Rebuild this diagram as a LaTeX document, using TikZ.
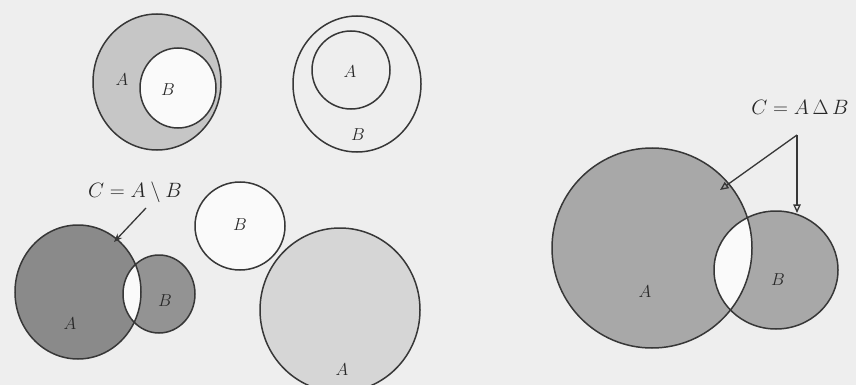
\documentclass[tikz,border=0pt]{standalone}
\usepackage{amsmath,amssymb}
\usetikzlibrary{arrows.meta}
\definecolor{VNback}{RGB}{238,238,238}
\definecolor{VNline}{RGB}{55,55,55}
\definecolor{VNtext}{RGB}{40,40,40}
\definecolor{VNdark}{RGB}{138,138,138}
\definecolor{VNmid}{RGB}{168,168,168}
\definecolor{VNsoft}{RGB}{198,198,198}
\definecolor{VNpale}{RGB}{214,214,214}
\definecolor{VNwhite}{RGB}{250,250,250}
\tikzset{
  ring/.style={draw=VNline,line width=1.5pt},
  lbl/.style={font=\fontsize{17}{20}\selectfont,text=VNtext,inner sep=1pt},
  eqn/.style={font=\fontsize{22}{26}\selectfont,text=VNtext,inner sep=1pt},
  ptr/.style={-{Triangle[open,length=3mm,width=2.6mm]},line width=1.3pt,draw=VNline}
}
\begin{document}
\begin{tikzpicture}[x=1pt,y=-1pt]
  \fill[VNback] (0,0) rectangle (856,385);
  \useasboundingbox (0,0) rectangle (856,385);

  % top left: B inside A, A\B shaded
  \coordinate (oA1) at (157,82);
  \coordinate (oB1) at (178,88);
  \fill[VNsoft] (oA1) ellipse[x radius=64pt,y radius=68pt];
  \fill[VNwhite] (oB1) ellipse[x radius=38pt,y radius=40pt];
  \draw[ring] (oA1) ellipse[x radius=64pt,y radius=68pt];
  \draw[ring] (oB1) ellipse[x radius=38pt,y radius=40pt];
  \node[lbl] (lA1) at (122,80) {$A$};
  \node[lbl] (lB1) at (168,90) {$B$};

  % top middle: A inside B
  \coordinate (oB2) at (357,84);
  \coordinate (oA2) at (351,70);
  \draw[ring] (oB2) ellipse[x radius=64pt,y radius=68pt];
  \draw[ring] (oA2) ellipse[x radius=39pt,y radius=39pt];
  \node[lbl] (lA2) at (350,72) {$A$};
  \node[lbl] (lB2) at (358,135) {$B$};

  % bottom left: difference
  \coordinate (oA3) at (78,292);
  \coordinate (oB3) at (159,294);
  \fill[VNdark] (oA3) ellipse[x radius=63pt,y radius=67pt];
  \fill[VNdark!92!white] (oB3) ellipse[x radius=36pt,y radius=39pt];
  \begin{scope}
    \clip (oA3) ellipse[x radius=63pt,y radius=67pt];
    \fill[VNwhite] (oB3) ellipse[x radius=36pt,y radius=39pt];
  \end{scope}
  \draw[ring] (oA3) ellipse[x radius=63pt,y radius=67pt];
  \draw[ring] (oB3) ellipse[x radius=36pt,y radius=39pt];
  \node[lbl] (lA3) at (70,324) {$A$};
  \node[lbl] (lB3) at (165,301) {$B$};
  \node[eqn] (eqD) at (135,192) {$C = A\setminus B$};
  \coordinate (tipD) at (114,242);
  \draw[ptr,-{Stealth[length=3mm]}] (146,208) -- (tipD);

  % bottom middle: disjoint
  \coordinate (oB4) at (240,226);
  \coordinate (oA4) at (340,310);
  \fill[VNwhite] (oB4) ellipse[x radius=45pt,y radius=44pt];
  \fill[VNpale] (oA4) ellipse[x radius=80pt,y radius=82pt];
  \draw[ring] (oB4) ellipse[x radius=45pt,y radius=44pt];
  \draw[ring] (oA4) ellipse[x radius=80pt,y radius=82pt];
  \node[lbl] (lB4) at (240,225) {$B$};
  \node[lbl] (lA4) at (342,370) {$A$};

  % right: symmetric difference
  \coordinate (oA5) at (652,248);
  \coordinate (oB5) at (776,270);
  \fill[VNmid] (oA5) ellipse[x radius=100pt,y radius=100pt];
  \fill[VNmid] (oB5) ellipse[x radius=62pt,y radius=59pt];
  \begin{scope}
    \clip (oA5) ellipse[x radius=100pt,y radius=100pt];
    \fill[VNwhite] (oB5) ellipse[x radius=62pt,y radius=59pt];
  \end{scope}
  \draw[ring] (oA5) ellipse[x radius=100pt,y radius=100pt];
  \draw[ring] (oB5) ellipse[x radius=62pt,y radius=59pt];
  \node[lbl] (lA5) at (645,292) {$A$};
  \node[lbl] (lB5) at (778,280) {$B$};
  \node[eqn] (eqS) at (800,107) {$C = A\,\Delta\,B$};
  \coordinate (cnr) at (797,135);
  \coordinate (tipA5) at (720,190);
  \coordinate (tipB5) at (797,213);
  \draw[ptr] (cnr) -- (tipA5);
  \draw[ptr] (cnr) -- (tipB5);
\end{tikzpicture}
\end{document}
